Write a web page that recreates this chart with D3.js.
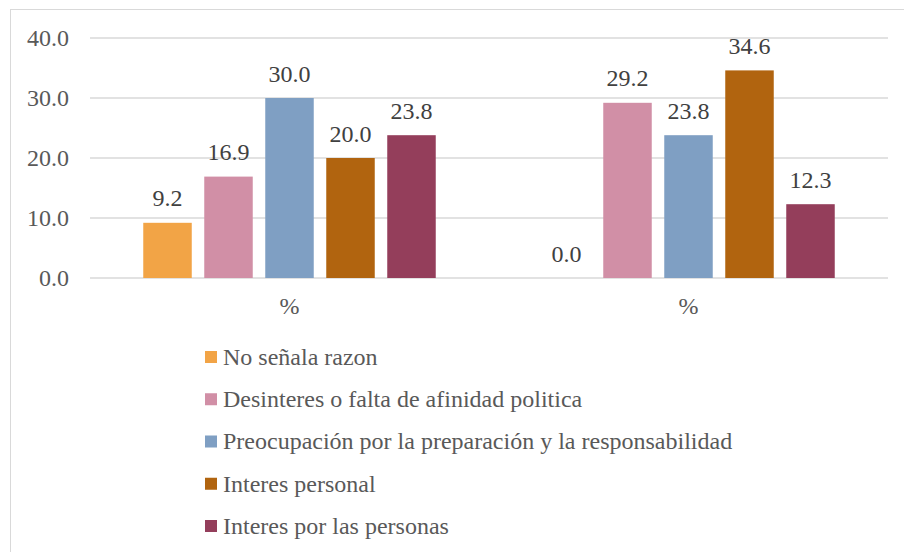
<!DOCTYPE html>
<html><head><meta charset="utf-8">
<script src="https://cdn.jsdelivr.net/npm/d3@7"></script>
</head><body style="margin:0">
<script>
const categories = ["%", "%"];
const seriesNames = ["No señala razon","Desinteres o falta de afinidad politica","Preocupación por la preparación y la responsabilidad","Interes personal","Interes por las personas"];
const seriesColors = ["#F2A446","#D18FA6","#7F9FC3","#B1640F","#943E5B"];
const values = [
  [9.2, 0.0],
  [16.9, 29.2],
  [30.0, 23.8],
  [20.0, 34.6],
  [23.8, 12.3]
];
const yTicks = [0,10,20,30,40];

const W=904,H=552;
const FONT="Liberation Serif";
const svg=d3.select("body").append("svg").attr("width",W).attr("height",H).style("display","block")
  .style("font-family",`"${FONT}"`);
svg.append("rect").attr("x",10.5).attr("y",9.5).attr("width",W-10).attr("height",H-9).attr("fill","#fff").attr("stroke","#D9D9D9");

const x0=d3.scaleBand().domain(d3.range(categories.length)).range([90,888]).paddingInner(0.2356).paddingOuter(0.1178);
const x1=d3.scaleBand().domain(d3.range(seriesNames.length)).range([0,x0.bandwidth()]).paddingInner(0.205).paddingOuter(0.1025);
const y=d3.scaleLinear().domain([0,40]).range([278,38]);

svg.append("g").selectAll("line").data(yTicks).join("line")
  .attr("x1",90).attr("x2",888).attr("y1",d=>y(d)).attr("y2",d=>y(d))
  .attr("stroke","#D9D9D9").attr("stroke-width",1.5);

function styleText(sel, color){
  sel.attr("font-size",24).attr("fill",color).style("font-family",`"${FONT}"`);
}

const yAxis=svg.append("g").attr("transform","translate(90,0)")
  .call(d3.axisLeft(y).tickValues(yTicks).tickFormat(d3.format(".1f")).tickSize(0).tickPadding(21));
yAxis.attr("font-family",null).attr("font-size",null);
yAxis.select(".domain").remove();
styleText(yAxis.selectAll("text"),"#595959");

const xAxis=svg.append("g").attr("transform","translate(0,278)")
  .call(d3.axisBottom(x0).tickFormat(i=>categories[i]).tickSize(0).tickPadding(19));
xAxis.attr("font-family",null).attr("font-size",null);
xAxis.select(".domain").remove();
styleText(xAxis.selectAll("text"),"#595959");

const groups=svg.selectAll("g.grp").data(categories.map((c,i)=>i)).join("g").attr("class","grp")
  .attr("transform",i=>`translate(${x0(i)},0)`);
groups.selectAll("rect").data(ci=>seriesNames.map((s,si)=>({si,v:values[si][ci]}))).join("rect")
  .attr("x",d=>x1(d.si)).attr("width",x1.bandwidth())
  .attr("y",d=>y(d.v)).attr("height",d=>y(0)-y(d.v))
  .attr("fill",d=>seriesColors[d.si]);
const lbl=groups.selectAll("text").data(ci=>seriesNames.map((s,si)=>({si,v:values[si][ci]}))).join("text")
  .attr("x",d=>x1(d.si)+x1.bandwidth()/2).attr("y",d=>y(d.v)-16.5)
  .attr("text-anchor","middle")
  .text(d=>d3.format(".1f")(d.v));
styleText(lbl,"#404040");

const leg=svg.append("g").selectAll("g").data(seriesNames).join("g")
  .attr("transform",(d,i)=>`translate(205,${357+i*42.25})`);
leg.append("rect").attr("x",0).attr("y",-6).attr("width",12).attr("height",12).attr("fill",(d,i)=>seriesColors[i]);
const lt=leg.append("text").attr("x",18).attr("y",0).attr("dy","0.33em").text(d=>d);
styleText(lt,"#595959");
</script>
</body></html>
